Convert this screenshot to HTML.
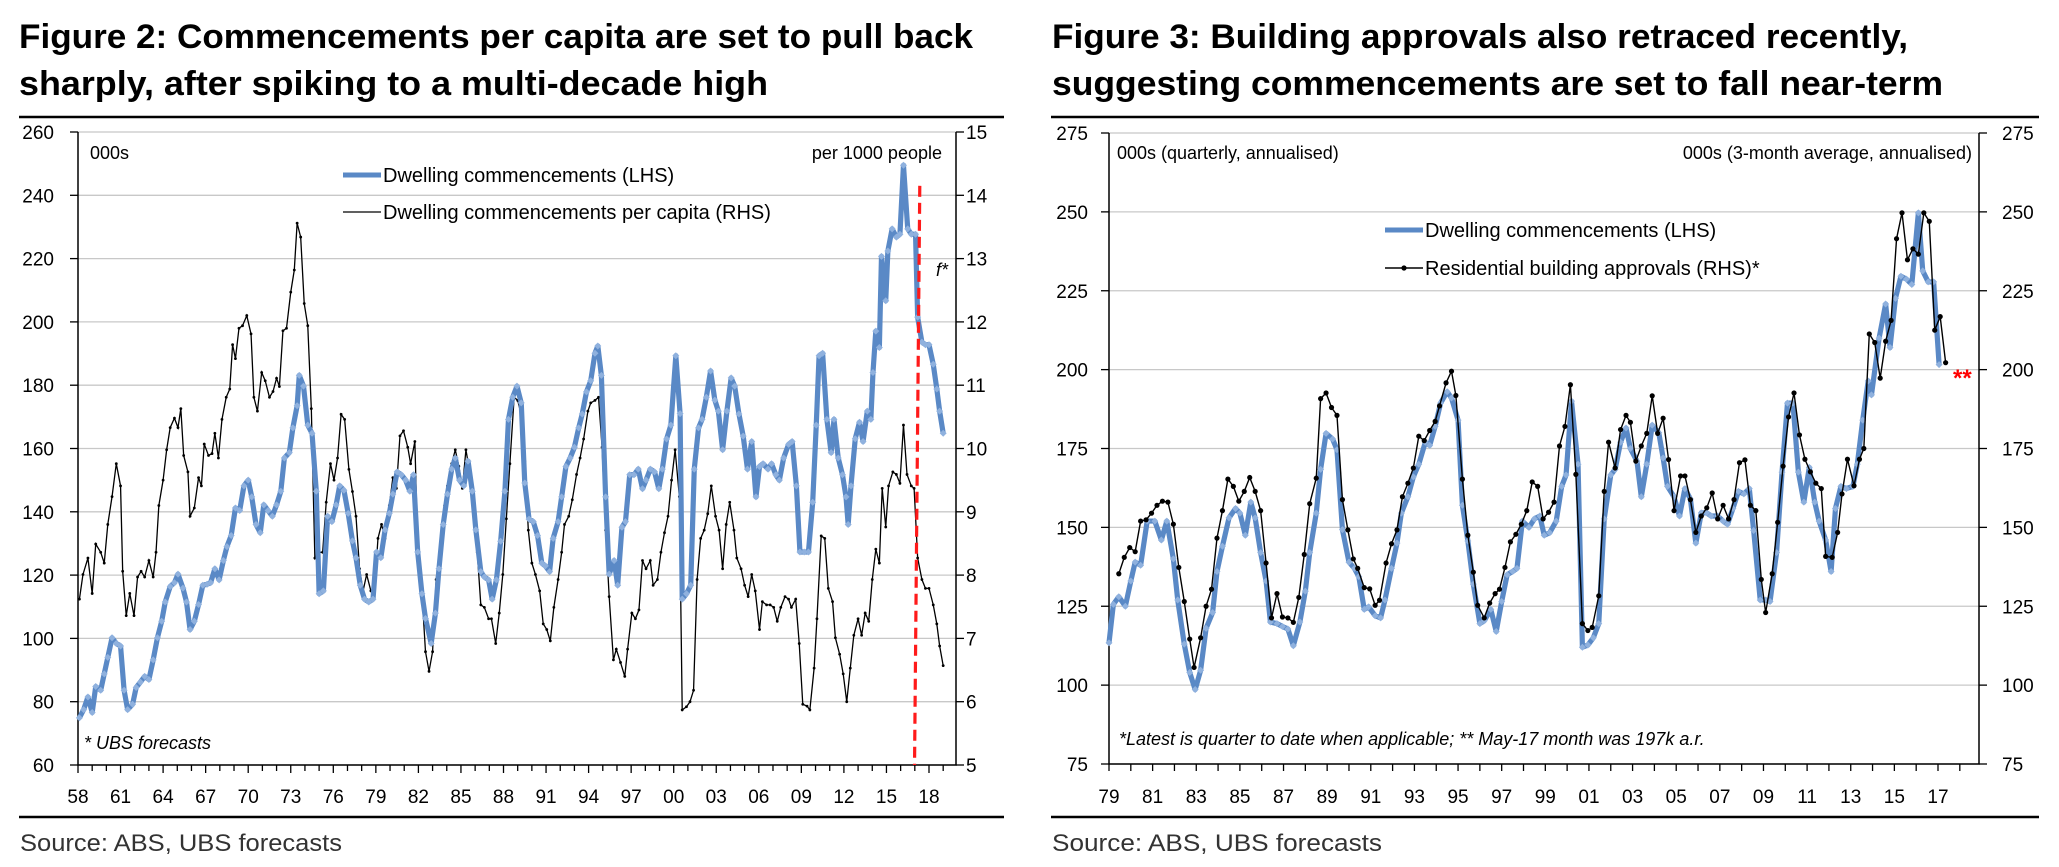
<!DOCTYPE html>
<html><head><meta charset="utf-8">
<style>
html,body{margin:0;padding:0;background:#fff;}
svg{display:block;font-family:"Liberation Sans",Arial,sans-serif;}
</style></head>
<body>
<svg id="root" width="2059" height="867" viewBox="0 0 2059 867">
<g>
<text x="19" y="48" font-size="34" font-weight="bold" textLength="954" lengthAdjust="spacingAndGlyphs">Figure 2: Commencements per capita are set to pull back</text>
<text x="19" y="95" font-size="34" font-weight="bold" textLength="749" lengthAdjust="spacingAndGlyphs">sharply, after spiking to a multi-decade high</text>
<line x1="19" y1="117" x2="1004" y2="117" stroke="#000" stroke-width="2.5"/>
<line x1="19" y1="817" x2="1004" y2="817" stroke="#000" stroke-width="2.5"/>
<text x="20" y="851" font-size="24" fill="#333" textLength="322" lengthAdjust="spacingAndGlyphs">Source: ABS, UBS forecasts</text>
<g id="leftPlot"></g>
</g>
<g>
<text x="1052" y="48" font-size="34" font-weight="bold" textLength="856" lengthAdjust="spacingAndGlyphs">Figure 3: Building approvals also retraced recently,</text>
<text x="1052" y="95" font-size="34" font-weight="bold" textLength="891" lengthAdjust="spacingAndGlyphs">suggesting commencements are set to fall near-term</text>
<line x1="1051" y1="117" x2="2039" y2="117" stroke="#000" stroke-width="2.5"/>
<line x1="1051" y1="817" x2="2039" y2="817" stroke="#000" stroke-width="2.5"/>
<text x="1052" y="851" font-size="24" fill="#333" textLength="330" lengthAdjust="spacingAndGlyphs">Source:  ABS, UBS forecasts</text>
<g id="rightPlot"></g>
</g>
</svg>
<script>
// ---------- LEFT CHART DATA ----------
const leftYTicks = [60,80,100,120,140,160,180,200,220,240,260];
const leftRTicks = [5,6,7,8,9,10,11,12,13,14,15];
const leftXLabels = ["58","61","64","67","70","73","76","79","82","85","88","91","94","97","00","03","06","09","12","15","18"];
const leftCommDates = [1958.1,1958.4,1958.7,1959.0,1959.25,1959.6,1959.85,1960.1,1960.4,1960.7,1961.0,1961.25,1961.5,1961.85,1962.1,1962.4,1962.7,1963.0,1963.3,1963.6,1963.9,1964.15,1964.5,1964.8,1965.05,1965.4,1965.65,1965.9,1966.2,1966.5,1966.8,1967.1,1967.35,1967.65,1967.95,1968.25,1968.5,1968.8,1969.1,1969.4,1969.7,1970.0,1970.25,1970.55,1970.85,1971.1,1971.4,1971.7,1972.0,1972.3,1972.55,1972.9,1973.15,1973.45,1973.6,1973.9,1974.2,1974.5,1974.8,1975.0,1975.3,1975.6,1975.9,1976.2,1976.45,1976.75,1977.05,1977.35,1977.6,1977.9,1978.2,1978.5,1978.8,1979.05,1979.35,1979.65,1979.95,1980.2,1980.5,1980.8,1981.1,1981.4,1981.65,1981.95,1982.25,1982.5,1982.9,1983.2,1983.45,1983.75,1984.05,1984.35,1984.6,1984.9,1985.2,1985.5,1985.8,1986.05,1986.4,1986.65,1986.95,1987.2,1987.5,1987.8,1988.1,1988.35,1988.65,1988.95,1989.25,1989.5,1989.8,1990.1,1990.4,1990.7,1990.95,1991.25,1991.5,1991.85,1992.1,1992.4,1992.7,1993.0,1993.3,1993.55,1993.85,1994.15,1994.45,1994.65,1994.9,1995.2,1995.45,1995.8,1996.05,1996.35,1996.6,1996.9,1997.2,1997.5,1997.8,1998.05,1998.35,1998.65,1998.95,1999.2,1999.5,1999.8,2000.15,2000.45,2000.6,2000.9,2001.2,2001.45,2001.75,2002.0,2002.3,2002.6,2002.9,2003.15,2003.45,2003.75,2004.05,2004.3,2004.6,2004.9,2005.2,2005.5,2005.8,2006.05,2006.3,2006.65,2006.9,2007.2,2007.45,2007.75,2008.1,2008.35,2008.65,2008.9,2009.2,2009.5,2009.8,2010.05,2010.25,2010.5,2010.8,2011.1,2011.3,2011.6,2011.9,2012.15,2012.3,2012.5,2012.8,2013.1,2013.35,2013.65,2013.9,2014.05,2014.25,2014.5,2014.65,2014.95,2015.1,2015.4,2015.7,2015.95,2016.2,2016.5,2016.75,2017.05,2017.2,2017.5,2017.75,2018.0,2018.3,2018.55,2018.75,2019.0];
const leftCommValues = [74.9,77.5,81.5,76.6,84.8,83.6,88.8,94,100.2,98.4,97.6,83.6,77.5,79.2,84.5,86.2,88,87,93.2,100.2,105.4,111.5,116.4,117.6,120.3,115.9,111.5,102.8,105.4,110.7,116.8,117.1,117.6,122,118.5,124.6,129,132.5,141.2,140.4,148.2,150,144.7,136,133.4,142.2,140.4,138.6,142.2,146.5,157,158.7,166.5,173.5,183.1,179.7,167.4,164.8,146.5,114.1,115,138.6,136.9,142.2,148.2,146.8,139.5,130.8,125.5,116.8,112.4,111.5,112.4,127.3,125.5,134.3,139.5,145.6,152.6,151.7,150,146.5,151.7,127.3,114.1,106.3,98.4,108,122,136,145.6,153.5,157,150,148.2,156,146.5,134.3,121.1,119.4,118.5,112.4,118.5,130.7,146.5,169.2,176.2,179.7,174.4,149.1,137.7,136.9,132.5,123.8,122.9,121.1,131.6,136.9,144.7,154.3,157,160.4,166.5,170.9,177.9,181.4,190.1,192.4,183.1,144.7,120.3,124.6,116.8,135.1,136.9,151.7,151.7,153.5,147.3,150,153.5,152.6,147.3,153.5,163,167.4,189.3,171,112.4,114.1,116.8,153.5,166.5,169.2,176.2,184.5,175.3,171.8,159.6,171.8,182.3,179.7,170.9,163.9,153.5,162.2,144.7,154.3,155.2,153.5,155.2,151.7,150,157,161.3,162.2,148.2,127.3,127.3,127.3,143,167.4,189.3,190.1,169.2,158.7,169.2,157,151.7,144.7,136,148.2,163.1,168.3,162.2,171.8,169.2,184,197.1,191.9,220.7,206.7,222.4,229.4,226.8,227.7,249.5,229.4,227.7,227.7,201.5,193.6,192.8,192.8,186.6,178.8,171.8,164.8];
const leftPcDates = [1958.1,1958.35,1958.7,1959.0,1959.25,1959.6,1959.85,1960.1,1960.4,1960.7,1961.0,1961.15,1961.4,1961.65,1961.95,1962.2,1962.45,1962.7,1963.0,1963.3,1963.5,1963.7,1964.0,1964.25,1964.5,1964.8,1965.05,1965.25,1965.45,1965.75,1965.9,1966.2,1966.5,1966.7,1966.9,1967.2,1967.45,1967.65,1967.9,1968.15,1968.45,1968.7,1968.9,1969.1,1969.35,1969.6,1969.9,1970.2,1970.4,1970.65,1970.95,1971.2,1971.5,1971.75,1972.0,1972.2,1972.45,1972.7,1973.0,1973.25,1973.45,1973.7,1973.95,1974.2,1974.45,1974.7,1974.95,1975.25,1975.5,1975.8,1976.05,1976.3,1976.55,1976.8,1977.1,1977.35,1977.6,1977.85,1978.1,1978.35,1978.65,1978.9,1979.15,1979.4,1979.65,1979.95,1980.2,1980.45,1980.7,1980.95,1981.25,1981.45,1981.75,1981.95,1982.25,1982.5,1982.75,1983.0,1983.25,1983.55,1983.85,1984.05,1984.35,1984.6,1984.85,1985.1,1985.35,1985.65,1985.9,1986.15,1986.4,1986.65,1986.95,1987.15,1987.45,1987.7,1987.95,1988.2,1988.45,1988.75,1989.0,1989.25,1989.5,1989.75,1990.0,1990.25,1990.55,1990.8,1991.05,1991.3,1991.55,1991.85,1992.1,1992.3,1992.6,1992.85,1993.15,1993.4,1993.65,1993.95,1994.15,1994.45,1994.7,1994.95,1995.2,1995.45,1995.75,1995.95,1996.25,1996.55,1996.75,1997.05,1997.3,1997.55,1997.8,1998.05,1998.35,1998.55,1998.85,1999.1,1999.35,1999.6,1999.85,2000.1,2000.4,2000.6,2000.9,2001.15,2001.4,2001.65,2001.9,2002.15,2002.4,2002.65,2002.95,2003.2,2003.45,2003.7,2003.95,2004.25,2004.45,2004.75,2005.0,2005.25,2005.5,2005.75,2006.05,2006.25,2006.55,2006.8,2007.05,2007.3,2007.55,2007.85,2008.1,2008.3,2008.6,2008.85,2009.1,2009.4,2009.6,2009.9,2010.1,2010.4,2010.65,2010.9,2011.2,2011.4,2011.7,2011.95,2012.2,2012.45,2012.7,2013.0,2013.25,2013.5,2013.75,2014.0,2014.25,2014.5,2014.7,2014.95,2015.15,2015.45,2015.7,2015.95,2016.2,2016.45,2016.75,2016.95,2017.2,2017.5,2017.75,2018.0,2018.3,2018.55,2018.75,2019.0];
const leftPcValues = [7.62,8.01,8.27,7.71,8.49,8.36,8.19,8.8,9.24,9.76,9.41,8.06,7.36,7.71,7.36,7.97,8.06,7.97,8.23,7.97,8.36,9.1,9.5,9.98,10.33,10.48,10.33,10.63,9.89,9.63,8.93,9.06,9.54,9.41,10.07,9.89,9.92,10.24,9.85,10.46,10.81,10.94,11.64,11.42,11.9,11.94,12.1,11.81,10.81,10.59,11.2,11.07,10.81,10.9,11.11,10.98,11.86,11.9,12.47,12.82,13.56,13.34,12.29,11.94,10.63,8.27,8.36,8.36,9.15,9.76,9.5,9.85,10.54,10.46,9.67,9.32,8.93,8.1,7.75,8.01,7.75,7.75,8.58,8.8,8.58,9.1,9.54,9.37,10.2,10.28,10.02,9.76,10.11,8.45,7.71,6.79,6.48,6.79,7.93,8.45,9.1,9.41,9.76,9.98,9.72,9.37,9.98,9.59,9.19,8.36,7.53,7.49,7.31,7.31,6.92,7.4,8.01,8.89,9.76,10.81,10.76,10.54,9.8,8.71,8.19,8.01,7.75,7.23,7.14,6.96,7.49,7.93,8.36,8.8,8.93,9.19,9.59,9.85,10.15,10.59,10.72,10.76,10.81,10.02,8.71,7.66,6.66,6.83,6.62,6.4,6.83,7.4,7.31,7.45,8.23,8.1,8.23,7.84,7.93,8.36,8.67,8.93,9.5,9.98,9.24,5.87,5.92,6.0,6.18,7.93,8.58,8.71,8.97,9.41,8.93,8.71,8.1,8.8,9.15,8.71,8.27,8.1,7.84,7.66,8.01,7.75,7.14,7.58,7.53,7.53,7.49,7.27,7.49,7.66,7.62,7.49,7.62,6.92,5.96,5.93,5.87,6.53,7.31,8.62,8.58,7.79,7.58,7.01,6.75,6.44,6.0,6.53,7.05,7.31,7.05,7.4,7.27,7.93,8.41,8.19,9.37,8.76,9.41,9.63,9.59,9.45,10.37,9.59,9.41,9.37,8.27,7.93,7.79,7.79,7.53,7.23,6.88,6.57];
const leftForecastStart = [2017.35, 2016.98];

// ---------- RIGHT CHART DATA ----------
const rightYTicks = [75,100,125,150,175,200,225,250,275];
const rightXLabels = ["79","81","83","85","87","89","91","93","95","97","99","01","03","05","07","09","11","13","15","17"];
const rightCommDates = [1979.0,1979.2,1979.45,1979.75,1980.0,1980.2,1980.45,1980.75,1981.1,1981.4,1981.65,1981.95,1982.15,1982.45,1982.7,1982.95,1983.2,1983.45,1983.75,1983.95,1984.2,1984.5,1984.8,1985.0,1985.25,1985.5,1985.7,1985.95,1986.2,1986.4,1986.7,1986.95,1987.2,1987.45,1987.75,1988.0,1988.2,1988.5,1988.7,1988.95,1989.25,1989.45,1989.7,1990.0,1990.25,1990.45,1990.7,1990.9,1991.2,1991.45,1991.65,1991.95,1992.2,1992.4,1992.7,1992.95,1993.2,1993.5,1993.7,1993.95,1994.2,1994.5,1994.7,1995.0,1995.2,1995.45,1995.7,1996.0,1996.2,1996.5,1996.75,1997.0,1997.25,1997.5,1997.7,1997.95,1998.25,1998.5,1998.75,1998.95,1999.2,1999.5,1999.75,1999.95,2000.2,2000.5,2000.7,2000.95,2001.2,2001.45,2001.7,2002.0,2002.2,2002.45,2002.7,2002.9,2003.2,2003.4,2003.65,2003.9,2004.2,2004.4,2004.6,2004.9,2005.15,2005.4,2005.65,2005.9,2006.15,2006.4,2006.6,2006.9,2007.15,2007.35,2007.6,2007.85,2008.1,2008.35,2008.55,2008.85,2009.1,2009.3,2009.6,2009.85,2010.1,2010.35,2010.6,2010.85,2011.1,2011.35,2011.55,2011.85,2012.1,2012.3,2012.55,2012.8,2013.1,2013.3,2013.55,2013.8,2013.95,2014.3,2014.6,2014.8,2015.05,2015.3,2015.55,2015.8,2016.1,2016.3,2016.55,2016.8,2017.05];
const rightCommValues = [113.4,125.6,128,125,133,139,138,152,152,146,152,140,127,113,104,98.6,104.7,118,123,136,144,153,156,154.5,147.5,158,153,142,133,120,119.5,118.6,117.8,112.5,120,129.8,142,154.5,168.4,179.8,178,174.6,149.3,139,137,134.4,124,124.8,122,121.3,127,137,145,154.5,159.7,166,170,177,176,182,189.4,193,191,184,157,145.7,132,119.5,120.4,124,117,126.5,135,136,137,152,150,152.7,153.6,147.5,148.3,152,163,166.6,190,170,112,112.7,115,119.5,152.7,166.6,168.4,177,181.5,175,171,159.7,170,182.4,180,172,163,159.7,153.6,162.3,159,145,154.6,154.6,153.6,153.6,152,151,156,161.4,160.6,162.3,149,127,127,126.5,142,167.5,189.4,189.4,167.5,158,169,158,152,146,136,156,163,162.3,163,170,184,196.4,192,210,220.8,207,222.6,229.6,228.7,227,249.7,231.3,227.8,227.8,201.6];
const rightApprDates = [1979.45,1979.7,1979.95,1980.2,1980.45,1980.7,1980.95,1981.2,1981.45,1981.7,1981.95,1982.2,1982.45,1982.7,1982.9,1983.2,1983.45,1983.7,1983.95,1984.2,1984.45,1984.7,1984.95,1985.2,1985.45,1985.7,1985.95,1986.2,1986.45,1986.7,1986.95,1987.2,1987.45,1987.7,1987.95,1988.2,1988.5,1988.7,1988.95,1989.2,1989.45,1989.7,1989.95,1990.2,1990.4,1990.7,1990.95,1991.2,1991.4,1991.7,1991.95,1992.2,1992.45,1992.7,1992.95,1993.2,1993.45,1993.7,1993.95,1994.15,1994.45,1994.7,1994.9,1995.2,1995.45,1995.7,1995.9,1996.2,1996.45,1996.7,1996.9,1997.15,1997.4,1997.65,1997.9,1998.15,1998.4,1998.65,1998.9,1999.15,1999.4,1999.65,1999.9,2000.15,2000.4,2000.7,2000.95,2001.15,2001.45,2001.7,2001.9,2002.2,2002.45,2002.7,2002.9,2003.15,2003.4,2003.65,2003.9,2004.15,2004.4,2004.65,2004.9,2005.2,2005.4,2005.65,2005.9,2006.15,2006.4,2006.65,2006.9,2007.15,2007.4,2007.65,2007.9,2008.15,2008.4,2008.65,2008.9,2009.1,2009.4,2009.65,2009.9,2010.15,2010.4,2010.65,2010.9,2011.15,2011.4,2011.65,2011.85,2012.15,2012.4,2012.6,2012.85,2013.15,2013.4,2013.6,2013.85,2014.1,2014.35,2014.6,2014.85,2015.1,2015.35,2015.6,2015.85,2016.1,2016.35,2016.6,2016.85,2017.1,2017.35];
const rightApprValues = [135.3,140.5,143.6,142.3,152,152.4,154.5,157,158.3,158,151,137.3,126.5,114.6,105.6,115,125,130.4,146.6,155.3,165.3,163,158.3,161.4,165.8,161.4,155.3,138.7,121.3,129,121.6,121.3,119.9,127.8,141.4,157.5,165.6,190.8,192.6,188,185.5,158.8,149.2,140,137,130.9,130.5,125.3,126.9,138.7,144.8,149.2,159.7,164,168.8,178.9,177.5,180.7,183.6,188.5,195.8,199.5,191.8,165.3,147.5,135.8,125.3,121.3,126,129,130.4,137.3,145.4,147.8,151,155.3,164.4,163,152.7,154.8,158,175.8,182,195.2,166.8,119.5,117.3,118.3,128.3,161.4,177,168.8,181,185.5,183.3,171,175.8,179.8,191.7,179.8,184.6,171.5,155.3,166.3,166.3,158.8,148.4,153.6,156.2,160.9,152.7,157,152.7,158.8,170.5,171.4,157,155.3,133.5,123,135.3,151.6,169.4,185,192.6,179.3,171.6,167.6,164,162.3,140.8,140.5,148.4,160.6,171.6,163.2,171.6,175,211.3,208.6,197.3,209,215.6,241.5,249.7,234.8,238.3,236.6,249.7,247,212.5,216.8,202.2];

const NS = "http://www.w3.org/2000/svg";
function mk(parent, tag, attrs, text){
  const el = document.createElementNS(NS, tag);
  for (const k in attrs) el.setAttribute(k, attrs[k]);
  if (text !== undefined) el.textContent = text;
  parent.appendChild(el);
  return el;
}
function linScale(d0,d1,r0,r1){ return v => r0 + (v-d0)*(r1-r0)/(d1-d0); }

// ===== LEFT CHART =====
(function(){
  const g = document.getElementById('leftPlot');
  const L=78, R=956, T=132, B=765;
  const x = linScale(1958, 2018, 78, 929);
  const y = linScale(60, 260, B, T);
  const yr = linScale(5, 15, B, T);
  leftYTicks.forEach((v,i)=>{
    const gl = mk(g,'line',{x1:L,x2:R,y1:y(v),y2:y(v),stroke:'#c8c8c8','stroke-width':1.3});
    
    
    const tk = mk(g,'line',{x1:L-8,x2:L,y1:y(v),y2:y(v),stroke:'#000','stroke-width':1.3});
    
    
    const t = mk(g,'text',{x:L-24,y:y(v)+7,'font-size':19,'text-anchor':'end'}, String(v));
    
    
  });
  leftRTicks.forEach(v=>{
    const tk = mk(g,'line',{x1:R,x2:R+8,y1:yr(v),y2:yr(v),stroke:'#000','stroke-width':1.3});
    
    
    const t = mk(g,'text',{x:R+10,y:yr(v)+7,'font-size':19}, String(v));
    
    
  });
  const ax = mk(g,'path',{d:`M${L},${T} V${B} H${R} V${T}`,fill:'none',stroke:'#000','stroke-width':1.5});
  
  
  for (let yr0=1958; yr0<=2019; yr0++){
    const big = (yr0-1958)%3===0;
    const tk = mk(g,'line',{x1:x(yr0),x2:x(yr0),y1:B,y2:B+(big?8:6),stroke:'#000','stroke-width':1.3});
    
    
  }
  leftXLabels.forEach((s,i)=>{
    const t = mk(g,'text',{x:x(1958+3*i),y:803,'font-size':19,'text-anchor':'middle'}, s);
    
    
  });
  const pc = mk(g,'polyline',{points:leftPcDates.map((d,i)=>x(d)+','+yr(leftPcValues[i])).join(' '),fill:'none',stroke:'#000','stroke-width':1.3});
  
  
  leftPcDates.forEach((d,i)=>{
    const c = mk(g,'circle',{cx:x(d),cy:yr(leftPcValues[i]),r:1.4,fill:'#000'});
    
    
  });
  const cl = mk(g,'polyline',{points:leftCommDates.map((d,i)=>x(d)+','+y(leftCommValues[i])).join(' '),fill:'none',stroke:'#5a89c6','stroke-width':5.2,'stroke-linejoin':'round'});
  
  
  leftCommDates.forEach((d,i)=>{
    const px=x(d), py=y(leftCommValues[i]);
    const m = mk(g,'path',{d:`M${px},${py-3.5} L${px+3.5},${py} L${px},${py+3.5} L${px-3.5},${py} Z`,fill:'#8fb1de'});
    
    
  });
  const fl = mk(g,'line',{x1:x(leftForecastStart[0]),y1:y(243),x2:x(leftForecastStart[1]),y2:B,stroke:'#ff1a1a','stroke-width':3.2,'stroke-dasharray':'11,6'});
  
  
  const labs = [
    ['000s',90,159,'start','normal','left-lhs-unit'],
    ['per 1000 people',942,159,'end','normal','left-rhs-unit'],
    ['f*',936,276,'start','italic','forecast-label'],
    ['* UBS forecasts',84,749,'start','italic','forecast-footnote']
  ];
  labs.forEach(a=>{
    const t = mk(g,'text',{x:a[1],y:a[2],'font-size':18,'text-anchor':a[3],'font-style':a[4]}, a[0]);
    
    
  });
  const lg1 = mk(g,'line',{x1:343,x2:381,y1:175,y2:175,stroke:'#5a89c6','stroke-width':5});
  
  
  const lt1 = mk(g,'text',{x:383,y:182,'font-size':20}, 'Dwelling commencements (LHS)');
  
  
  const lg2 = mk(g,'line',{x1:343,x2:381,y1:212,y2:212,stroke:'#000','stroke-width':1.3});
  
  
  const lt2 = mk(g,'text',{x:383,y:219,'font-size':20}, 'Dwelling commencements per capita (RHS)');
  
  
})();

// ===== RIGHT CHART =====
(function(){
  const g = document.getElementById('rightPlot');
  const L=1109, R=1979, T=133, B=764;
  const x = linScale(1979, 2017, 1109, 1938);
  const y = linScale(75, 275, B, T);
  rightYTicks.forEach(v=>{
    const gl = mk(g,'line',{x1:L,x2:R,y1:y(v),y2:y(v),stroke:'#c8c8c8','stroke-width':1.3});
    
    
    const tk = mk(g,'line',{x1:L-8,x2:L,y1:y(v),y2:y(v),stroke:'#000','stroke-width':1.3});
    
    
    const t = mk(g,'text',{x:1088,y:y(v)+7,'font-size':19,'text-anchor':'end'}, String(v));
    
    
    const tk2 = mk(g,'line',{x1:R,x2:R+8,y1:y(v),y2:y(v),stroke:'#000','stroke-width':1.3});
    
    
    const t2 = mk(g,'text',{x:2002,y:y(v)+7,'font-size':19}, String(v));
    
    
  });
  const ax = mk(g,'path',{d:`M${L},${T} V${B} H${R} V${T}`,fill:'none',stroke:'#000','stroke-width':1.5});
  
  
  for (let yr0=1979; yr0<=2018; yr0++){
    const tk = mk(g,'line',{x1:x(yr0),x2:x(yr0),y1:B,y2:B+7,stroke:'#000','stroke-width':1.3});
    
    
  }
  rightXLabels.forEach((s,i)=>{
    const t = mk(g,'text',{x:x(1979+2*i),y:803,'font-size':19,'text-anchor':'middle'}, s);
    
    
  });
  const cl = mk(g,'polyline',{points:rightCommDates.map((d,i)=>x(d)+','+y(rightCommValues[i])).join(' '),fill:'none',stroke:'#5a89c6','stroke-width':5.2,'stroke-linejoin':'round'});
  
  
  rightCommDates.forEach((d,i)=>{
    const px=x(d), py=y(rightCommValues[i]);
    const m = mk(g,'path',{d:`M${px},${py-3.5} L${px+3.5},${py} L${px},${py+3.5} L${px-3.5},${py} Z`,fill:'#8fb1de'});
    
    
  });
  const al = mk(g,'polyline',{points:rightApprDates.map((d,i)=>x(d)+','+y(rightApprValues[i])).join(' '),fill:'none',stroke:'#000','stroke-width':1.4});
  
  
  rightApprDates.forEach((d,i)=>{
    const c = mk(g,'circle',{cx:x(d),cy:y(rightApprValues[i]),r:2.6,fill:'#000'});
    
    
  });
  const st = mk(g,'text',{x:1953,y:386,'font-size':24,fill:'#ff0000','font-weight':'bold'}, '**');
  
  
  const labs = [
    ['000s (quarterly, annualised)',1117,159,'start','normal','right-lhs-unit'],
    ['000s (3-month average, annualised)',1972,159,'end','normal','right-rhs-unit'],
    ['*Latest is quarter to date when applicable; ** May-17 month was 197k a.r.',1119,745,'start','italic','right-footnote']
  ];
  labs.forEach(a=>{
    const t = mk(g,'text',{x:a[1],y:a[2],'font-size':18,'text-anchor':a[3],'font-style':a[4]}, a[0]);
    
    
  });
  const lg1 = mk(g,'line',{x1:1385,x2:1423,y1:230,y2:230,stroke:'#5a89c6','stroke-width':5});
  
  
  const lt1 = mk(g,'text',{x:1425,y:237,'font-size':20}, 'Dwelling commencements (LHS)');
  
  
  const lg2 = mk(g,'line',{x1:1385,x2:1423,y1:268,y2:268,stroke:'#000','stroke-width':1.4});
  
  
  const ld = mk(g,'circle',{cx:1404,cy:268,r:2.6,fill:'#000'});
  
  
  const lt2 = mk(g,'text',{x:1425,y:275,'font-size':20}, 'Residential building approvals (RHS)*');
  
  
})();
</script>
</body></html>
